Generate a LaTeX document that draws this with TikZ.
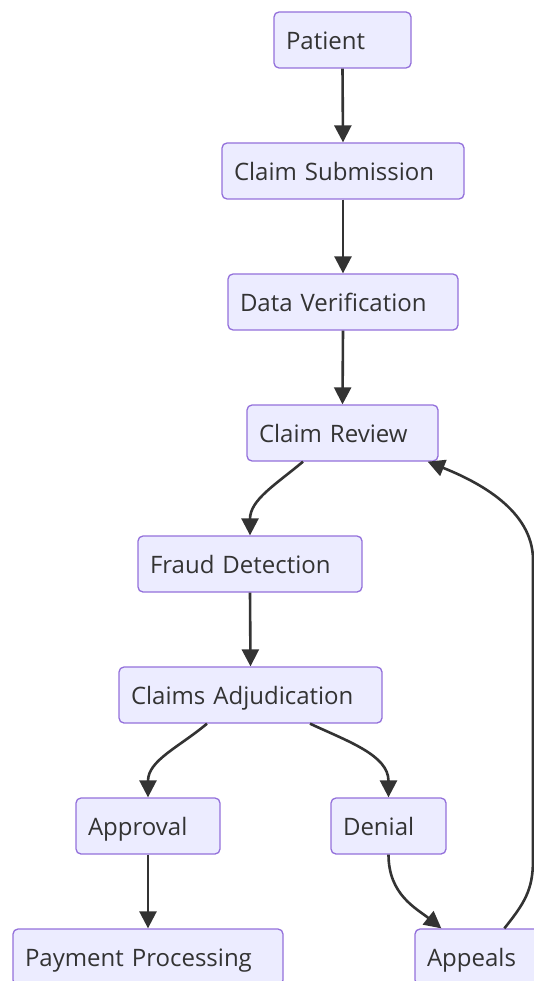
\documentclass[tikz,border=0pt]{standalone}
\usepackage{fontspec}
\setmainfont{Open Sans}
\usetikzlibrary{arrows.meta,calc}
\definecolor{nfill}{HTML}{ECECFF}
\definecolor{nline}{HTML}{9370DB}
\definecolor{eline}{HTML}{333333}
\begin{document}
\begin{tikzpicture}[x=1pt,y=-1pt,
  box/.style={draw=nline,fill=nfill,line width=1.3pt,rounded corners=5pt,
    minimum height=56pt,inner xsep=12pt,inner ysep=0pt,align=left,
    text=eline,font=\fontsize{24}{28}\selectfont,text height=19.6pt,text depth=0pt},
  edge/.style={draw=eline,line width=2.6pt,-{Triangle[length=17pt,width=17pt]}}]
\useasboundingbox (0,0) rectangle (534,981);
\node[box,text width=113pt] (pat) at (342.5,40) {Patient};
\node[box,text width=218pt] (sub) at (343,171) {Claim Submission};
\node[box,text width=206pt] (dv) at (343,302) {Data Verification};
\node[box,text width=167pt] (cr) at (342.5,433) {Claim Review};
\node[box,text width=200pt] (fd) at (250,564) {Fraud Detection};
\node[box,text width=239pt] (ca) at (250.5,695) {Claims Adjudication};
\node[box,text width=120pt] (ap) at (148,826) {Approval};
\node[box,text width=91pt] (de) at (388.5,826) {Denial};
\node[box,text width=246pt] (pp) at (148,957) {Payment Processing};
\node[box,text width=121pt] (apl) at (487.5,957) {Appeals};
\coordinate (r1) at (533,860);
\coordinate (r2) at (533,560);
\draw[edge] (pat.south) -- (sub.north);
\draw[edge] (sub.south) -- (dv.north);
\draw[edge] (dv.south) -- (cr.north);
\draw[edge] ([xshift=-39.5pt]cr.south) to[out=-140,in=90] (fd.north);
\draw[edge] (fd.south) -- (ca.north);
\draw[edge] ([xshift=-43.5pt]ca.south) to[out=-140,in=90] (ap.north);
\draw[edge] ([xshift=59.5pt]ca.south) to[out=-25,in=90] (de.north);
\draw[edge] (ap.south) -- (pp.north);
\draw[edge] (de.south) .. controls +(0,40) and +(-25,-20) .. ([xshift=27pt]apl.north west);
\draw[edge] ([xshift=90pt]apl.north west) .. controls +(20,-25) and +(0,30) .. (r1) -- (r2) .. controls +(0,-50) and +(50,20) .. ([xshift=-11pt]cr.south east);
\end{tikzpicture}
\end{document}
